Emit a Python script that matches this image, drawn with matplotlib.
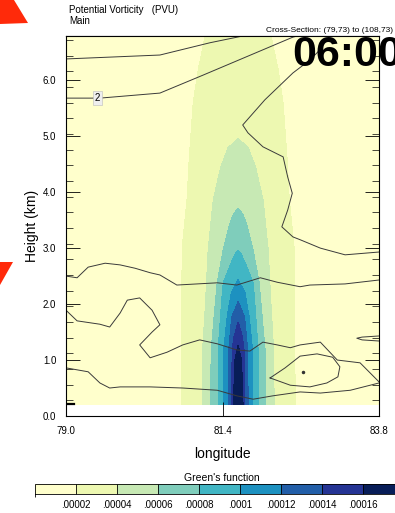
import numpy as np
import matplotlib
matplotlib.use("Agg")
import matplotlib.pyplot as plt
from matplotlib.colors import ListedColormap, BoundaryNorm
from matplotlib.patches import Polygon

plt.rcParams['font.family'] = ['Liberation Sans', 'DejaVu Sans']

# ---------------- data ----------------
levels = [0.00002, 0.00004, 0.00006, 0.00008, 0.0001, 0.00012, 0.00014, 0.00016]
level_labels = [".00002", ".00004", ".00006", ".00008", ".0001", ".00012", ".00014", ".00016"]
colors = ["#ffffcc", "#edf8b1", "#c7e9b4", "#7fcdbb", "#41b6c4",
          "#1d91c0", "#225ea8", "#253494", "#081d58"]

center_lon = 81.64
center_bottom_value = 0.000175
# Green's function contours: for each level, heights (km) and half-widths (deg)
lev_z = [
    [0.2, 3.0, 3.9, 4.6, 5.6, 6.2, 6.79, 7.3],
    [0.2, 1.18, 2.08, 2.97, 3.86, 4.45, 4.8, 4.96],
    [0.2, 1.18, 2.08, 2.38, 2.97, 3.4, 3.6, 3.72],
    [0.2, 1.18, 2.08, 2.38, 2.7, 2.9, 2.97],
    [0.2, 1.18, 1.77, 2.2, 2.44],
    [0.2, 1.18, 1.77, 2.05],
    [0.2, 1.18, 1.4, 1.69],
    [0.2, 1.0, 1.28],
]
lev_hw = [
    [0.874, 0.859, 0.782, 0.751, 0.690, 0.613, 0.506, 0.0],
    [0.552, 0.544, 0.498, 0.460, 0.383, 0.268, 0.153, 0.0],
    [0.422, 0.414, 0.345, 0.322, 0.230, 0.138, 0.077, 0.0],
    [0.307, 0.307, 0.253, 0.230, 0.123, 0.046, 0.0],
    [0.222, 0.222, 0.169, 0.107, 0.0],
    [0.153, 0.146, 0.100, 0.0],
    [0.100, 0.092, 0.069, 0.0],
    [0.077, 0.054, 0.0],
]

# PV contour lines: (longitudes, heights km)
pv_lines = [
    ([79.00, 80.44, 81.21, 81.71], [6.38, 6.45, 6.67, 6.79]),
    ([79.00, 79.52, 80.44, 81.10, 82.48, 82.55], [5.68, 5.68, 5.77, 6.09, 6.77, 6.79]),
    ([82.90, 82.74, 82.48, 82.05, 81.71, 81.79, 82.02, 82.33, 82.40, 82.47, 82.40,
      82.31, 82.48, 82.59, 82.90, 83.28, 83.80],
     [6.55, 6.36, 6.13, 5.65, 5.20, 5.06, 4.81, 4.63, 4.27, 3.98, 3.68,
      3.38, 3.20, 3.15, 3.00, 2.88, 2.93]),
    ([79.00, 79.17, 79.34, 79.60, 79.83, 80.06, 80.29, 80.44, 80.70, 81.32, 81.62,
      81.98, 82.24, 82.59, 82.74, 83.28, 83.80],
     [2.50, 2.47, 2.66, 2.73, 2.70, 2.64, 2.56, 2.52, 2.34, 2.38, 2.34,
      2.47, 2.39, 2.31, 2.34, 2.36, 2.43]),
    ([79.00, 79.17, 79.52, 79.67, 79.83, 79.94, 80.13, 80.32, 80.44, 80.32, 80.13,
      80.29, 80.55, 80.79, 81.05, 81.32, 81.62, 81.82, 82.02, 82.24, 82.44, 82.59,
      82.90, 83.16, 83.51, 83.80],
     [1.89, 1.70, 1.64, 1.59, 1.84, 2.07, 2.11, 1.89, 1.63, 1.50, 1.27,
      1.04, 1.14, 1.27, 1.36, 1.29, 1.18, 1.16, 1.32, 1.27, 1.22, 1.27,
      1.32, 1.00, 0.95, 0.61]),
    ([79.00, 79.34, 79.52, 79.67, 79.83, 80.29, 80.79, 81.32, 81.62, 81.87, 82.17,
      82.59, 82.90, 83.36, 83.80],
     [0.86, 0.79, 0.59, 0.50, 0.52, 0.52, 0.50, 0.46, 0.36, 0.30, 0.36,
      0.43, 0.41, 0.46, 0.59]),
    ([82.13, 82.36, 82.59, 82.85, 83.09, 83.20, 83.17, 83.00, 82.74, 82.44, 82.13],
     [0.68, 0.86, 1.07, 1.11, 1.05, 0.88, 0.70, 0.59, 0.52, 0.55, 0.68]),
    ([83.80, 83.54, 83.46, 83.54, 83.80], [1.43, 1.41, 1.39, 1.36, 1.34]),
]
pv_dot = ([82.63], [0.79])
terrain_lon = [79.00, 79.13]
terrain_z = [0.21, 0.21]
pv_label = (79.48, 5.68, "2")

# ---------------- build field from the read contour geometry ----------------
zg = np.linspace(0.2, 6.79, 400)
xg = np.linspace(79.0, 83.8, 600)
tips = np.array([z[-1] for z in lev_z])
lev = np.array(levels)
order = np.argsort(tips)
zc = np.concatenate([[0.2], tips[order]])
vc = np.concatenate([[center_bottom_value], lev[order]])
field = np.zeros((zg.size, xg.size))
dist = np.abs(xg - center_lon)
for i, z in enumerate(zg):
    c = np.interp(z, zc, vc)
    ds, vs = [0.0], [c]
    for k in range(len(levels) - 1, -1, -1):
        if z >= tips[k] or lev[k] >= c:
            continue
        hw = np.interp(z, lev_z[k], lev_hw[k])
        if hw > ds[-1]:
            ds.append(hw)
            vs.append(lev[k])
    ds.append(ds[-1] + 0.6)
    vs.append(0.0)
    field[i] = np.interp(dist, ds, vs)

# ---------------- figure ----------------
W, H = 395, 513
fig = plt.figure(figsize=(W / 100, H / 100), dpi=100)
ax = fig.add_axes([66 / W, 1 - 416 / H, 313 / W, 380 / H])
ax.set_facecolor("white")

cmap = ListedColormap(colors)
bounds = [-1.0] + levels + [1.0]
norm = BoundaryNorm(bounds, cmap.N)
cs = ax.contourf(xg, zg, field, levels=bounds, cmap=cmap, norm=norm)

for lx, lz in pv_lines:
    ax.plot(lx, lz, color="#3a3a3a", lw=0.7)
ax.plot(pv_dot[0], pv_dot[1], "o", ms=1.5, color="#333333")
ax.plot(terrain_lon, terrain_z, color="black", lw=1.6)
ax.text(pv_label[0], pv_label[1], pv_label[2], fontsize=7, ha="center", va="center",
        bbox=dict(boxstyle="square,pad=0.2", fc="#eeeeee", ec="#bbbbbb", lw=0.4))

ax.set_xlim(79.0, 83.8)
ax.set_ylim(0.0, 6.79)
ax.set_xticks([79.0, 81.4, 83.8])
ax.set_xticklabels(["79.0", "81.4", "83.8"], fontsize=7)
ax.set_yticks([0, 1, 2, 3, 4, 5, 6])
ax.set_yticklabels(["0.0", "1.0", "2.0", "3.0", "4.0", "5.0", "6.0"], fontsize=7)
ax.set_yticks(np.arange(0, 6.8, 0.28), minor=True)
ax.tick_params(axis="both", direction="in", length=10, width=0.6)
ax.tick_params(axis="x", pad=7)
ax.tick_params(axis="y", which="major", right=True, length=10, pad=7)
ax.tick_params(axis="y", which="minor", direction="in", length=5, width=0.5, right=True)
ax.set_ylabel("Height (km)", fontsize=10, labelpad=3)
ax.set_xlabel("longitude", fontsize=10, labelpad=8)

top = ax.secondary_xaxis("top")
top.set_xticks([79.785, 80.63, 81.477, 82.32, 83.17])
top.set_xticklabels([])
top.set_xticks(np.arange(79.1, 83.8, 0.169), minor=True)
top.tick_params(which="major", direction="in", length=8, width=0.6)
top.tick_params(which="minor", direction="in", length=4, width=0.5)
for s in ax.spines.values():
    s.set_linewidth(0.8)

# titles
fig.text(69 / W, 1 - 10 / H, "Potential Vorticity   (PVU)", fontsize=7, va="center", ha="left")
fig.text(69 / W, 1 - 21 / H, "Main", fontsize=7, va="center", ha="left")
fig.text(393 / W, 1 - 30 / H, "Cross-Section: (79,73) to (108,73)", fontsize=6,
         va="center", ha="right")
fig.text(292 / W, 1 - 55 / H, "06:00", fontsize=31, fontweight="bold", va="center", ha="left")

# colorbar
cax = fig.add_axes([35 / W, 1 - 494 / H, 369 / W, 10 / H])
cb = fig.colorbar(cs, cax=cax, orientation="horizontal", spacing="uniform",
                  ticks=levels, drawedges=True)
cb.ax.set_xticklabels(level_labels, fontsize=7)
cb.ax.tick_params(length=0, pad=4)
cb.outline.set_linewidth(0.6)
cb.dividers.set_linewidth(0.6)
fig.text(222 / W, 1 - 478 / H, "Green's function", fontsize=7.5, ha="center", va="center")

# red arrow marks (pasted annotations in the reference)
fig.add_artist(Polygon([(0, H), (14, H), (28, H - 23), (0, H - 24)], closed=True,
                       transform=None, fc="#ff2a0a", ec="none"))
fig.add_artist(Polygon([(0, H - 262), (13, H - 262), (0, H - 285)], closed=True,
                       transform=None, fc="#ff2a0a", ec="none"))

fig.savefig("out.png", dpi=100)
